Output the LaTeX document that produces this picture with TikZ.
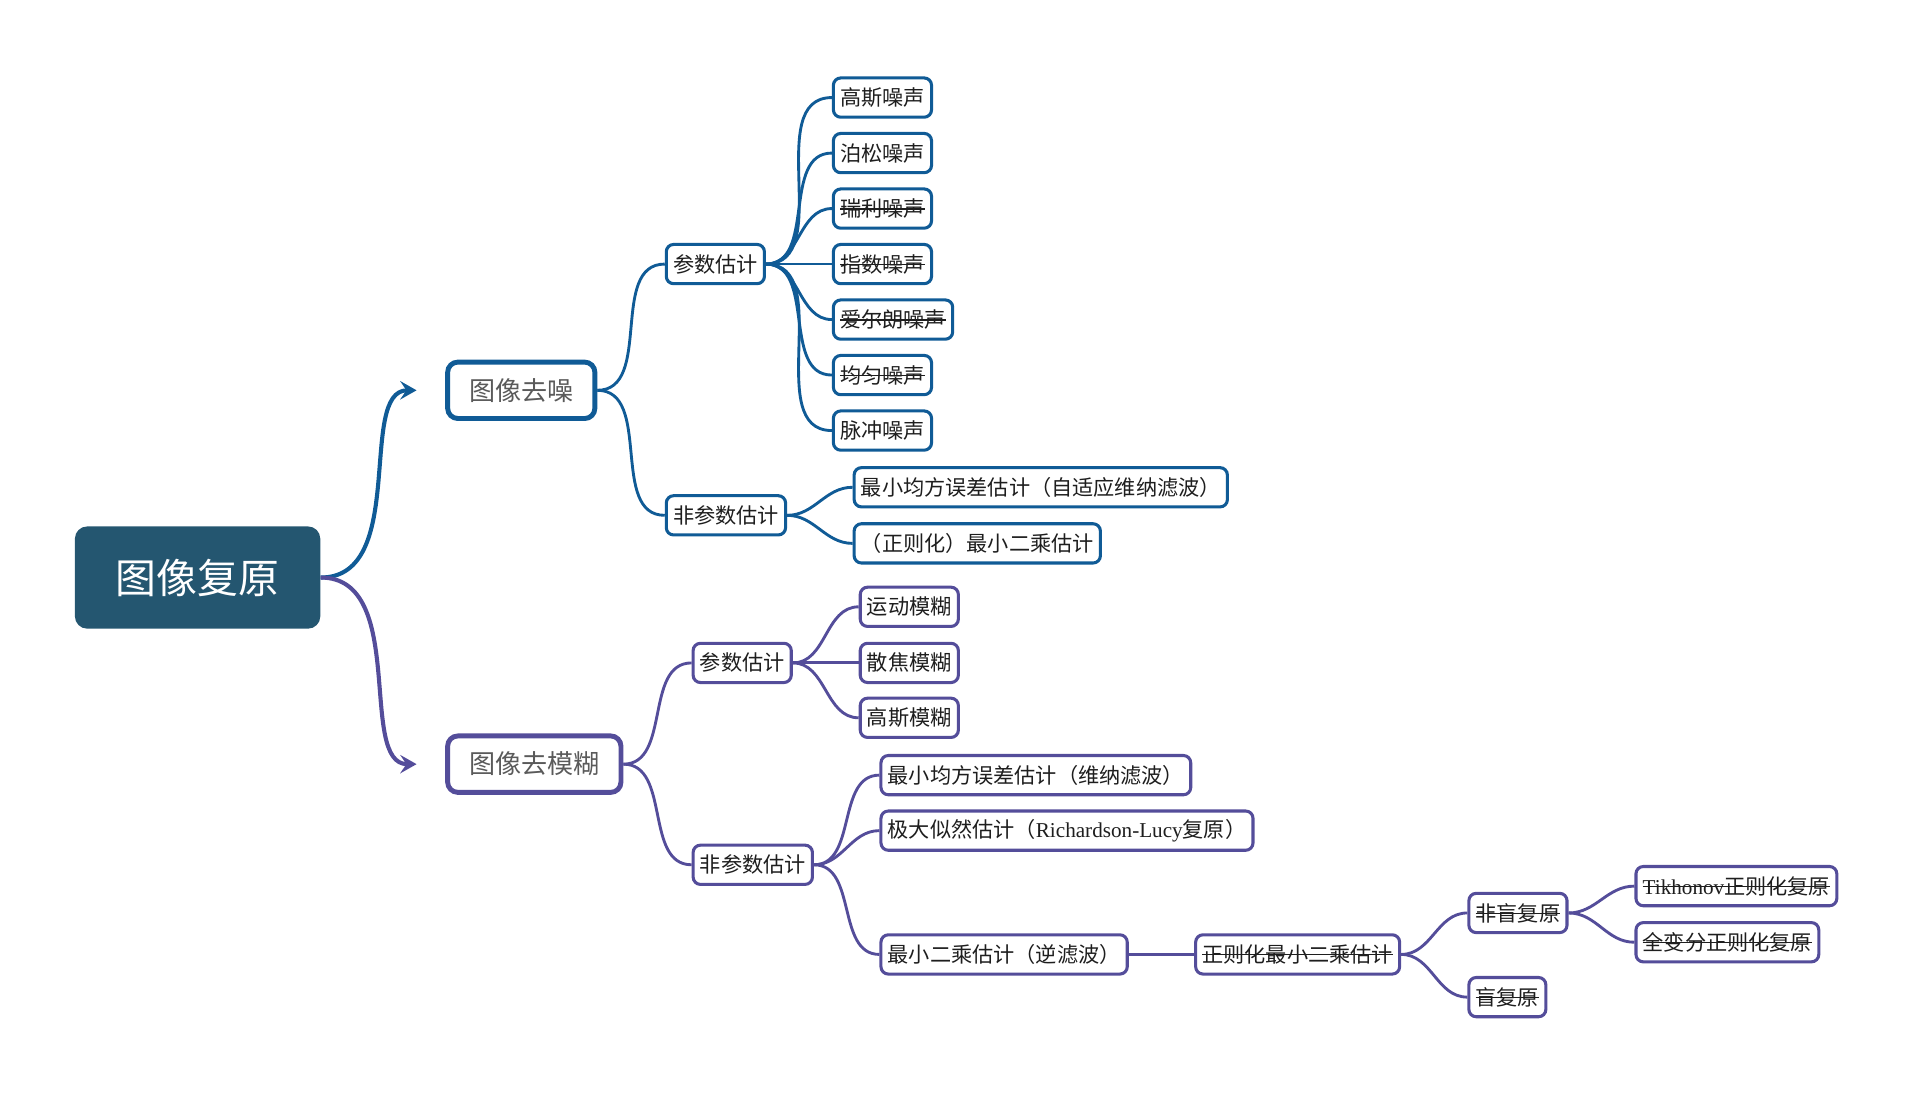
\documentclass[tikz,border=0pt]{standalone}
\usepackage{fontspec}
\setmainfont{Liberation Serif}
\newfontfamily\cjk{Noto Sans CJK SC}
\usepackage{xcolor}
\usetikzlibrary{arrows.meta}

\definecolor{rootfill}{RGB}{36,86,112}
\definecolor{noiseblue}{RGB}{16,91,150}
\definecolor{blurpurple}{RGB}{84,77,154}
\definecolor{leaftext}{RGB}{30,30,30}
\definecolor{headtext}{RGB}{90,90,90}

\newsavebox{\strkbox}
\newcommand{\strk}[1]{\sbox{\strkbox}{#1}\rlap{\rule[0.33em]{\wd\strkbox}{0.65pt}}\usebox{\strkbox}}

\begin{document}
\begin{tikzpicture}[x=0.5965pt,y=-0.5965pt,
    rootbox/.style={fill=rootfill,text=white,rounded corners=6pt,minimum width=120pt,minimum height=50pt,font=\cjk\fontsize{20}{24}\selectfont},
    headbox/.style={draw,line width=2.4pt,rounded corners=5pt,fill=white,text=headtext,minimum height=27.6pt,inner xsep=10.5pt,anchor=west,font=\cjk\fontsize{12.75}{15}\selectfont},
    leafbox/.style={draw,line width=1.5pt,rounded corners=3.6pt,fill=white,text=leaftext,minimum height=19.2pt,inner xsep=3.3pt,anchor=west,font=\cjk\fontsize{10.35}{12}\selectfont},
    link/.style={line width=1.4pt,out=0,in=180},
    branch/.style={line width=2pt,out=0,in=180,-{Stealth[length=8pt,width=9pt,inset=3pt]},shorten >=14pt}]
    \useasboundingbox (0,0) rectangle (1569.2,897.8);

    % root
    \node[rootbox] (root) at (162,473.5) {图像复原};

    % denoising branch
    \node[headbox,draw=noiseblue] (denoise) at (365,320) {图像去噪};
    \node[leafbox,draw=noiseblue] (nParam) at (545,216.5) {参数估计};
    \node[leafbox,draw=noiseblue] (nNonparam) at (545,422.5) {非参数估计};
    \node[leafbox,draw=noiseblue] (gauss) at (682,80) {高斯噪声};
    \node[leafbox,draw=noiseblue] (poisson) at (682,125.5) {泊松噪声};
    \node[leafbox,draw=noiseblue] (rayleigh) at (682,171) {\strk{瑞利噪声}};
    \node[leafbox,draw=noiseblue] (expo) at (682,216.5) {\strk{指数噪声}};
    \node[leafbox,draw=noiseblue] (erlang) at (682,262) {\strk{爱尔朗噪声}};
    \node[leafbox,draw=noiseblue] (uniform) at (682,307.5) {\strk{均匀噪声}};
    \node[leafbox,draw=noiseblue] (impulse) at (682,353) {脉冲噪声};
    \node[leafbox,draw=noiseblue] (nMmse) at (699,399.5) {最小均方误差估计（自适应维纳滤波）};
    \node[leafbox,draw=noiseblue] (nLsq) at (699,445.5) {（正则化）最小二乘估计};

    \draw[branch,noiseblue] (root.east) to (denoise.west);
    \draw[link,noiseblue] (denoise.east) to (nParam.west);
    \draw[link,noiseblue] (denoise.east) to (nNonparam.west);
    \draw[link,noiseblue] (nParam.east) to (gauss.west);
    \draw[link,noiseblue] (nParam.east) to (poisson.west);
    \draw[link,noiseblue] (nParam.east) to (rayleigh.west);
    \draw[link,noiseblue] (nParam.east) to (expo.west);
    \draw[link,noiseblue] (nParam.east) to (erlang.west);
    \draw[link,noiseblue] (nParam.east) to (uniform.west);
    \draw[link,noiseblue] (nParam.east) to (impulse.west);
    \draw[link,noiseblue] (nNonparam.east) to (nMmse.west);
    \draw[link,noiseblue] (nNonparam.east) to (nLsq.west);

    % deblurring branch
    \node[headbox,draw=blurpurple] (deblur) at (365,626.5) {图像去模糊};
    \node[leafbox,draw=blurpurple] (bParam) at (567,543.5) {参数估计};
    \node[leafbox,draw=blurpurple] (bNonparam) at (567,709) {非参数估计};
    \node[leafbox,draw=blurpurple] (motion) at (704,497.5) {运动模糊};
    \node[leafbox,draw=blurpurple] (defocus) at (704,543.5) {散焦模糊};
    \node[leafbox,draw=blurpurple] (gblur) at (704,588.5) {高斯模糊};
    \node[leafbox,draw=blurpurple] (bMmse) at (721,635.5) {最小均方误差估计（维纳滤波）};
    \node[leafbox,draw=blurpurple] (bMle) at (721,681) {极大似然估计（{\rmfamily Richardson-Lucy}复原）};
    \node[leafbox,draw=blurpurple] (bLsq) at (721,782.5) {最小二乘估计（逆滤波）};
    \node[leafbox,draw=blurpurple] (bReg) at (979,782.5) {\strk{正则化最小二乘估计}};
    \node[leafbox,draw=blurpurple] (nonblind) at (1203,748.5) {\strk{非盲复原}};
    \node[leafbox,draw=blurpurple] (blind) at (1203,817.5) {\strk{盲复原}};
    \node[leafbox,draw=blurpurple] (tikh) at (1340,726.5) {\strk{{\rmfamily Tikhonov}正则化复原}};
    \node[leafbox,draw=blurpurple] (tv) at (1340,772.5) {\strk{全变分正则化复原}};

    \draw[branch,blurpurple] (root.east) to (deblur.west);
    \draw[link,blurpurple] (deblur.east) to (bParam.west);
    \draw[link,blurpurple] (deblur.east) to (bNonparam.west);
    \draw[link,blurpurple] (bParam.east) to (motion.west);
    \draw[link,blurpurple] (bParam.east) to (defocus.west);
    \draw[link,blurpurple] (bParam.east) to (gblur.west);
    \draw[link,blurpurple] (bNonparam.east) to (bMmse.west);
    \draw[link,blurpurple] (bNonparam.east) to (bMle.west);
    \draw[link,blurpurple] (bNonparam.east) to (bLsq.west);
    \draw[link,blurpurple] (bLsq.east) to (bReg.west);
    \draw[link,blurpurple] (bReg.east) to (nonblind.west);
    \draw[link,blurpurple] (bReg.east) to (blind.west);
    \draw[link,blurpurple] (nonblind.east) to (tikh.west);
    \draw[link,blurpurple] (nonblind.east) to (tv.west);
\end{tikzpicture}
\end{document}
